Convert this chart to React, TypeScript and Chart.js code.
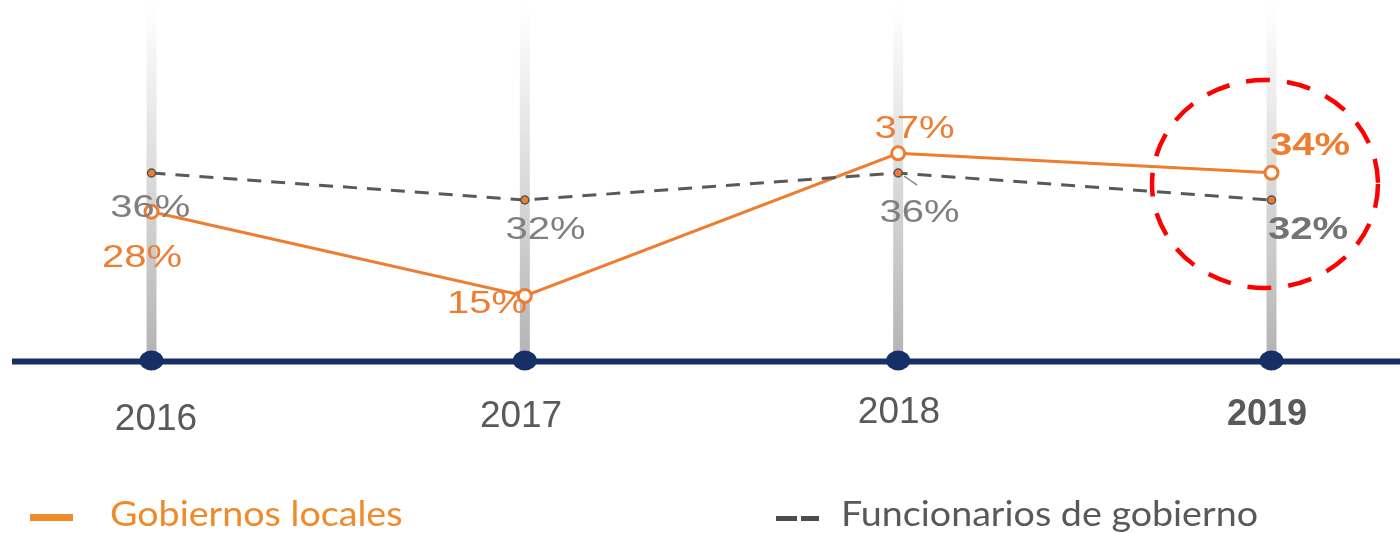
import React, { useEffect, useRef } from 'react';
import { Chart, registerables } from 'chart.js';

Chart.register(...registerables);

const categories = ['2016', '2017', '2018', '2019'];
const gobiernosLocales = [28, 15, 37, 34];
const funcionariosGobierno = [36, 32, 36, 32];
const seriesNames = ['Gobiernos locales', 'Funcionarios de gobierno'];
const highlightIndex = 3;

const ORANGE = '#EE7D31';
const ORANGE_LEGEND = '#F08A2A';
const GREY_LINE = '#595959';
const GREY_LABEL = '#7F7F7F';
const NAVY = '#172F67';

// label offsets relative to point pixel (style only)
const orangeOffsets = [[-9.5, 44], [-37.8, 6], [16.3, -27], [38.5, -29]];
const greyOffsets = [[-1.1, 33], [20.7, 28], [21.3, 38], [36.5, 28]];
const yearOffsets = [[4.5, 430], [-3.8, 427], [0.8, 423], [-4.5, 425]];

const decoPlugin = {
  id: 'deco',
  beforeDatasetsDraw(chart: any) {
    const ctx = chart.ctx;
    const xs = chart.scales.x;
    const area = chart.chartArea;
    ctx.save();
    // vertical gradient bars
    categories.forEach((_, i) => {
      const x = xs.getPixelForValue(i);
      const g = ctx.createLinearGradient(0, 0, 0, area.bottom);
      g.addColorStop(0, '#ffffff');
      g.addColorStop(0.05, '#fdfdfd');
      g.addColorStop(1, '#b3b3b3');
      ctx.fillStyle = g;
      ctx.fillRect(x - 5, 0, 10, area.bottom);
    });
    // navy axis
    ctx.fillStyle = NAVY;
    ctx.fillRect(12, area.bottom - 1.5, chart.width - 12, 6);
    categories.forEach((_, i) => {
      const x = xs.getPixelForValue(i);
      ctx.beginPath();
      ctx.ellipse(x, area.bottom + 0.5, 12, 10, 0, 0, Math.PI * 2);
      ctx.fill();
    });
    ctx.restore();
  },
  afterDatasetsDraw(chart: any) {
    const ctx = chart.ctx;
    const xs = chart.scales.x;
    const y1 = chart.scales.y;
    const y2 = chart.scales.y2;
    ctx.save();

    const drawLabel = (text: string, cx: number, midY: number, color: string, bold: boolean) => {
      const size = 32;
      ctx.save();
      ctx.font = `${bold ? 'bold ' : ''}${size}px "Liberation Sans", Arial, sans-serif`;
      ctx.fillStyle = color;
      ctx.textAlign = 'center';
      ctx.textBaseline = 'alphabetic';
      ctx.translate(cx, midY + 0.358 * size);
      ctx.scale(1.25, 1);
      ctx.fillText(text, 0, 0);
      ctx.restore();
    };

    // leader line for 2018 grey label
    {
      const px = xs.getPixelForValue(2);
      const py = y2.getPixelForValue(funcionariosGobierno[2]);
      ctx.strokeStyle = '#8c8c8c';
      ctx.lineWidth = 1.5;
      ctx.beginPath();
      ctx.moveTo(px + 6, py + 3);
      ctx.lineTo(px + 19, py + 12);
      ctx.stroke();
    }

    gobiernosLocales.forEach((v, i) => {
      const x = xs.getPixelForValue(i) + orangeOffsets[i][0];
      const y = y1.getPixelForValue(v) + orangeOffsets[i][1];
      drawLabel(`${v}%`, x, y, ORANGE, i === highlightIndex);
    });
    funcionariosGobierno.forEach((v, i) => {
      const x = xs.getPixelForValue(i) + greyOffsets[i][0];
      const y = y2.getPixelForValue(v) + greyOffsets[i][1];
      drawLabel(`${v}%`, x, y, i === highlightIndex ? '#737373' : GREY_LABEL, i === highlightIndex);
    });

    // year labels
    categories.forEach((c, i) => {
      const bold = i === highlightIndex;
      ctx.font = `${bold ? 'bold 36px' : '37px'} "Liberation Sans", Arial, sans-serif`;
      ctx.fillStyle = '#595959';
      ctx.textAlign = 'center';
      ctx.textBaseline = 'alphabetic';
      ctx.fillText(c, xs.getPixelForValue(i) + yearOffsets[i][0], yearOffsets[i][1]);
    });

    // red dashed highlight ellipse
    {
      const cx = xs.getPixelForValue(highlightIndex) - 6.5;
      ctx.strokeStyle = '#FF0000';
      ctx.lineWidth = 4.5;
      ctx.setLineDash([24, 17]);
      ctx.beginPath();
      ctx.ellipse(cx, 184, 113, 104, 0, 0, Math.PI * 2);
      ctx.stroke();
      ctx.setLineDash([]);
    }

    // legend
    const legendText = (t: string, x: number, color: string) => {
      ctx.save();
      ctx.font = '35px Lato, sans-serif';
      ctx.fillStyle = color;
      ctx.textAlign = 'left';
      ctx.textBaseline = 'alphabetic';
      ctx.translate(x, 526);
      ctx.scale(1.075, 1);
      ctx.fillText(t, 0, 0);
      ctx.restore();
    };
    ctx.fillStyle = ORANGE_LEGEND;
    ctx.fillRect(30, 514, 43, 7);
    legendText(seriesNames[0], 110, ORANGE_LEGEND);

    ctx.fillStyle = '#4d4d4d';
    ctx.fillRect(776, 516, 21, 5);
    ctx.fillRect(801, 516, 18, 5);
    legendText(seriesNames[1], 841, '#595959');

    ctx.restore();
  },
};

export default function App() {
  const ref = useRef<HTMLCanvasElement>(null);
  useEffect(() => {
    if (!ref.current) return;
    const chart = new Chart(ref.current, {
      type: 'line',
      data: {
        labels: categories,
        datasets: [
          {
            label: seriesNames[1],
            data: funcionariosGobierno,
            yAxisID: 'y2',
            borderColor: GREY_LINE,
            borderWidth: 3,
            borderDash: [14, 10],
            pointRadius: 4,
            pointBackgroundColor: ORANGE,
            pointBorderColor: '#555555',
            pointBorderWidth: 1.5,
            fill: false,
            tension: 0,
            clip: false as any,
          },
          {
            label: seriesNames[0],
            data: gobiernosLocales,
            yAxisID: 'y',
            borderColor: ORANGE,
            borderWidth: 3,
            pointRadius: 6.5,
            pointBackgroundColor: '#ffffff',
            pointBorderColor: ORANGE,
            pointBorderWidth: 3,
            fill: false,
            tension: 0,
            clip: false as any,
          },
        ],
      },
      options: {
        responsive: false,
        animation: false,
        devicePixelRatio: 1,
        layout: { autoPadding: false, padding: { left: 151.5, right: 128.5, top: 0, bottom: 173 } } as any,
        plugins: { legend: { display: false }, tooltip: { enabled: false }, title: { display: false } },
        scales: {
          x: { type: 'category', display: false, offset: false },
          y: { display: false, min: 5.13, max: 60.64 },
          y2: { display: false, min: 8.3, max: 61.63 },
        },
      },
      plugins: [decoPlugin],
    });
    return () => chart.destroy();
  }, []);
  return (
    <div style={{ position: 'fixed', left: 0, top: 0, width: 1400, height: 533, overflow: 'hidden', background: '#fff' }}>
      <canvas ref={ref} width={1400} height={533} style={{ display: 'block' }} />
    </div>
  );
}
